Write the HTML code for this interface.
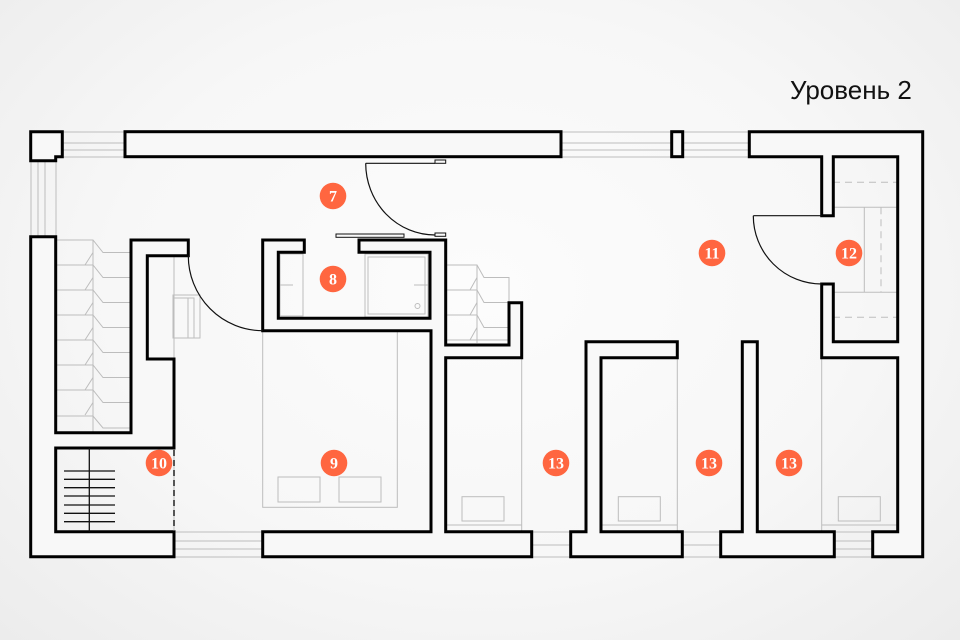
<!DOCTYPE html>
<html><head><meta charset="utf-8"><style>
html,body{margin:0;padding:0;width:960px;height:640px;overflow:hidden}
body{background:radial-gradient(ellipse at 50% 45%,#fcfcfc 0%,#f7f7f7 55%,#ececec 100%)}
svg{display:block}
.w{fill:#f8f8f8;stroke:#000;stroke-width:3;stroke-linejoin:miter}
.g{stroke:#bdbdbd;stroke-width:1;fill:none}
.l{fill:#ff6640}
.t{font-family:"Liberation Serif",serif;font-weight:bold;font-size:16px;fill:#fff;text-anchor:middle}
</style></head><body>
<svg width="960" height="640" viewBox="0 0 960 640" xmlns="http://www.w3.org/2000/svg">
<text x="790" y="99" font-family="Liberation Sans, sans-serif" font-size="26" fill="#111">Уровень 2</text>

<!-- windows -->
<g class="g">
<path d="M62 132H125M62 143H125M62 150H125M62 157H125"/>
<path d="M561 132H672M561 143H672M561 150H672M561 157H672"/>
<path d="M683 132H749M683 143H749M683 150H749M683 157H749"/>
<path d="M31 161V237M38 161V237M45 161V237M56 161V237"/>
<path d="M174 532H263M174 541H263M174 549H263M174 557H263"/>
<path d="M532 532H571M532 545H571M532 557H571"/>
<path d="M682 532H721M682 545H721M682 557H721"/>
<path d="M834 532H873M834 541H873M834 549H873M834 557H873"/>
</g>

<!-- furniture -->
<g class="g">
<path d="M93 240V432"/>
<path d="M56 240H93L103 252.5H131M85 265L93 252.5M56 265H85L93 265L103 277.5H131M85 290L93 277.5M56 290H93L103 302.5H131M85 315L93 302.5M56 315H93L103 327.5H131M85 340L93 327.5M56 340H93L103 352.5H131M85 365L93 352.5M56 365H93L103 377.5H131M85 390L93 377.5M56 390H93L103 402.5H131M85 415L93 402.5M56 416H93L103 428H131"/>
<path d="M477 265V343M446 265H477L484 277.5H509V303M470 290L477 277.5M446 290H477L484 302.5H509M470 315L477 302.5M446 315H477L484 327.5H509M470 340L477 327.5M446 340H509"/>
<rect x="280" y="254" width="23" height="62"/>
<path d="M280 285H293"/>
<rect x="365" y="254" width="63" height="63"/>
<rect x="368" y="257" width="57" height="57"/>
<path d="M414 285H428"/>
<circle cx="417.5" cy="306" r="2.5"/>
<rect x="173" y="295" width="27" height="43"/><path d="M173 298H194V338M188 298V338"/>
<path d="M174 256V532"/>
<rect x="262.7" y="330.7" width="134.6" height="176.6"/>
<rect x="278" y="477" width="42" height="25"/><rect x="339" y="477" width="42" height="25"/>
<path d="M521.7 358V532M446 525H521.7"/>
<rect x="462" y="496.7" width="42" height="24.3"/>
<path d="M677.3 358V532M601 525H677.3"/>
<rect x="618.3" y="496.7" width="42" height="24.3"/>
<path d="M821.7 358V532M821.7 525H897.7"/>
<rect x="838.3" y="496.7" width="42" height="24.3"/>
<path d="M833 207.3H897.7M833 292.3H897.7M864.3 207.3V292.3"/>
<path d="M833 182.3H897.7M833 317.3H897.7M881 207.3V292.3" stroke-dasharray="7 5"/>
</g>

<!-- walls -->
<path class="w" d="M30.7 131.7H62.3V156.7H55.7V160.7H30.7Z"/>
<rect class="w" x="125" y="131.7" width="436" height="25"/>
<rect class="w" x="671.7" y="131.7" width="11" height="25"/>
<path class="w" d="M30.7 236.7H55.7V432.7H131V240H188.3V255.7H147.3V359H174V448H55.7V531.7H174V556.7H30.7Z"/>
<path class="w" d="M262.7 240H304.3V252.3H278.3V318.3H430V252.3H359V240H445.7V345H509V302.7H521.7V357.7H445.7V531.7H531.7V556.7H262.7V531.7H431V330.7H262.7Z"/>
<path class="w" d="M586 341.7H677.3V357.7H601V531.7H682.3V556.7H570.7V531.7H586Z"/>
<path class="w" d="M742.3 341.7H757.3V531.7H834.3V556.7H720.7V531.7H742.3Z"/>
<path class="w" d="M749.3 131.7H922.7V556.7H872.7V531.7H897.7V357.7H821.7V284H833.3V341.7H897.7V156.7H833.3V215.7H821.7V156.7H749.3Z"/>

<!-- stairs 10 -->
<g stroke="#111" stroke-width="1.3">
<path d="M89.3 448V531.7"/>
<path d="M64 471H115M64 479.3H115M64 487.7H115M64 496H115M64 505H115M64 513.3H115M64 521.7H115"/>
</g>
<path d="M174 450V531" stroke="#555" stroke-width="2" stroke-dasharray="6 4"/>

<!-- doors -->
<g fill="none" stroke="#111" stroke-width="1.2">
<path d="M365.7 163.3H435"/>
<path d="M365.7 163.3A69.3 71.7 0 0 0 435 235"/>
<path d="M188.3 255.7A74.4 75 0 0 0 262.7 330.7"/>
<path d="M753.3 215.7H821.7"/>
<path d="M753.3 215.7A68.4 68.3 0 0 0 821.7 284"/>
</g>
<g fill="#fafafa" stroke="#111" stroke-width="1">
<rect x="435" y="160" width="10.7" height="3.3"/>
<rect x="435" y="233" width="10.7" height="3.3"/>
<rect x="336" y="234" width="68" height="3.3"/>
</g>

<!-- labels -->
<g>
<circle class="l" cx="333" cy="196" r="13.3"/><text class="t" x="333" y="201.5">7</text>
<circle class="l" cx="333" cy="279" r="13.3"/><text class="t" x="333" y="284.5">8</text>
<circle class="l" cx="334" cy="463" r="13.3"/><text class="t" x="334" y="468.5">9</text>
<circle class="l" cx="159" cy="463" r="13.3"/><text class="t" x="159" y="468.5">10</text>
<circle class="l" cx="712" cy="253" r="13.3"/><text class="t" x="712" y="258.5">11</text>
<circle class="l" cx="849" cy="253" r="13.3"/><text class="t" x="849" y="258.5">12</text>
<circle class="l" cx="556" cy="463" r="13.3"/><text class="t" x="556" y="468.5">13</text>
<circle class="l" cx="709" cy="463" r="13.3"/><text class="t" x="709" y="468.5">13</text>
<circle class="l" cx="789" cy="463" r="13.3"/><text class="t" x="789" y="468.5">13</text>
</g>
</svg>
</body></html>
